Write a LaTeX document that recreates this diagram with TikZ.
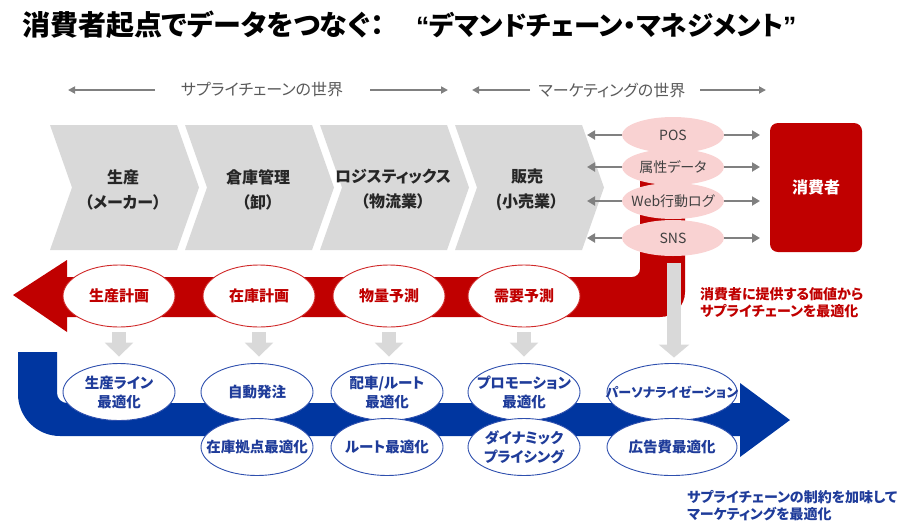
\documentclass[tikz,border=0pt]{standalone}
\usepackage{fontspec}
\setmainfont{Noto Sans CJK JP}[RawFeature=+palt]
\newfontfamily\latinq{Liberation Sans}
\usetikzlibrary{shapes.geometric,arrows.meta}
\definecolor{chevgray}{HTML}{D9D9D9}
\definecolor{agray}{HTML}{808080}
\definecolor{hdrgray}{HTML}{595959}
\definecolor{chtext}{HTML}{262626}
\definecolor{dtext}{HTML}{404040}
\definecolor{sred}{HTML}{C00000}
\definecolor{redline}{HTML}{D02A2A}
\definecolor{pinkf}{HTML}{F9D2D2}
\definecolor{sblue}{HTML}{0036A0}
\definecolor{blueline}{HTML}{2E4FAE}
\definecolor{btext}{HTML}{1F3C9A}
\begin{document}
\begin{tikzpicture}[x=1pt,y=-1pt,
  titlefont/.style={font=\bfseries\fontsize{28}{28}\selectfont, inner sep=0, anchor=base west},
  chevron/.style={fill=chevgray},
  hdr/.style={font=\fontsize{16}{16}\selectfont, text=hdrgray, inner sep=0},
  hdrarrow/.style={draw=agray, line width=2pt, -{Triangle[length=7pt,width=7pt]}},
  chlabel/.style={font=\bfseries\fontsize{16}{25}\selectfont, text=chtext, align=center},
  shrink/.style={inner xsep=-30pt, inner ysep=-15pt},
  datanode/.style={ellipse, shrink, fill=pinkf, minimum width=102pt, minimum height=36pt, font=\fontsize{14}{14}\selectfont, text=dtext},
  dataarrow/.style={draw=agray, line width=2.6pt, -{Triangle[length=8pt,width=9pt]}},
  redell/.style={ellipse, shrink, draw=redline, line width=0.9pt, fill=white, minimum width=112pt, minimum height=62pt, font=\bfseries\fontsize{15}{15}\selectfont, text=sred},
  blueell/.style={ellipse, shrink, draw=blueline, line width=0.9pt, fill=white, minimum width=112pt, minimum height=57pt, font=\bfseries\fontsize{14.5}{19}\selectfont, text=btext, align=center},
  smalldown/.style={draw=chevgray, line width=14pt, -{Triangle[length=14pt,width=28pt]}},
  bigdown/.style={draw=chevgray, line width=14pt, -{Triangle[length=13pt,width=30pt]}},
  caption/.style={anchor=west, align=left, inner sep=0, font=\bfseries\fontsize{14}{17}\selectfont},
]
\path[use as bounding box] (0,0) rectangle (897,531);

% title
\node[titlefont] (title) at (22,35) {消費者起点でデータをつなぐ：};
\node[titlefont, font=\bfseries\fontsize{26.5}{26.5}\selectfont] (title2) at (416,35) {{\latinq “}デマンドチェーン・マネジメント{\latinq ”}};

% header
\node[hdr] (hdrA) at (262,90) {サプライチェーンの世界};
\node[hdr] (hdrB) at (612,90) {マーケティングの世界};
\coordinate (hA0) at (155,90); \coordinate (hA1) at (68,90);
\coordinate (hA2) at (370,90); \coordinate (hA3) at (448,90);
\coordinate (hB0) at (530,90); \coordinate (hB1) at (472,90);
\coordinate (hB2) at (700,90); \coordinate (hB3) at (766,90);
\draw[hdrarrow] (hA0) -- (hA1);
\draw[hdrarrow] (hA2) -- (hA3);
\draw[hdrarrow] (hB0) -- (hB1);
\draw[hdrarrow] (hB2) -- (hB3);

% chevrons
\foreach \x in {50,185,320,455}{
  \fill[chevron] (\x,125) -- (\x+127,125) -- (\x+149,187.5) -- (\x+127,250) -- (\x,250) -- (\x+22,187.5) -- cycle;
}
\node[chlabel] (c1) at (123,189.5) {生産\\（メーカー）};
\node[chlabel] (c2) at (258,189.5) {倉庫管理\\（卸）};
\node[chlabel] (c3) at (393,189.5) {ロジスティックス\\（物流業）};
\node[chlabel] (c4) at (527,189.5) {販売\\(小売業）};

% red band
\fill[sred] (13,295) -- (67,260) -- (67,277) -- (632,277) .. controls (636.4,277) and (640,273.4) .. (640,269) -- (640,165) -- (685,165) -- (685,292) .. controls (685,305.8) and (673.8,317) .. (660,317) -- (67,317) -- (67,332) -- cycle;

% blue band
\fill[sblue] (18,352) -- (57,352) -- (57,393) .. controls (57,398.5) and (61.5,403) .. (67,403) -- (740,403) -- (740,383) -- (790,420) -- (740,457) -- (740,436) -- (60,436) .. controls (36.8,436) and (18,417.2) .. (18,394) -- cycle;

% data ellipses
\node[datanode] (pos) at (673,135) {POS};
\node[datanode] (attr) at (673,167) {属性データ};
\node[datanode] (web) at (673,201) {Web行動ログ};
\node[datanode] (sns) at (673,238) {SNS};
\foreach \n/\y in {pos/135,attr/167,web/201,sns/238}{
  \coordinate (\n L) at (587,\y);
  \coordinate (\n R) at (760,\y);
  \draw[dataarrow] (\n.west) -- (\n L);
  \draw[dataarrow] (\n.east) -- (\n R);
}

% consumer
\node[fill=sred, rounded corners=8pt, minimum width=92pt, minimum height=129pt, inner sep=0,
      font=\bfseries\fontsize{16}{16}\selectfont, text=white] (cons) at (816,187.5) {消費者};

% red ellipses
\node[redell] (r1) at (119,296) {生産計画};
\node[redell] (r2) at (259,296) {在庫計画};
\node[redell] (r3) at (389,296) {物量予測};
\node[redell] (r4) at (524,296) {需要予測};

% blue ellipses
\node[blueell] (b1) at (119,392) {生産ライン\\最適化};
\node[blueell] (b2) at (257,392) {自動発注};
\node[blueell] (b3) at (387,392) {配車/ルート\\最適化};
\node[blueell] (b4) at (524,392) {プロモーション\\最適化};
\node[blueell, minimum width=130pt, font=\bfseries\fontsize{13}{19}\selectfont] (b5) at (672,392) {パーソナライゼーション};
\node[blueell] (b6) at (257,447) {在庫拠点最適化};
\node[blueell] (b7) at (387,447) {ルート最適化};
\node[blueell] (b8) at (524,447) {ダイナミック\\プライシング};
\node[blueell, minimum width=130pt] (b9) at (672,447) {広告費最適化};

% gray down arrows
\foreach \r/\b in {r1/b1,r2/b2,r3/b3,r4/b4}{
  \draw[smalldown, shorten <=5pt, shorten >=6.5pt] (\r.south) -- (\r.south |- \b.north);
}
\draw[bigdown, shorten <=7pt, shorten >=5.5pt] ([xshift=1pt]sns.south) -- ([xshift=1pt]sns.south |- b5.north);

% captions
\node[caption, text=sred] (redcap) at (700,303) {消費者に提供する価値から\\サプライチェーンを最適化};
\node[caption, text=btext] (bluecap) at (687,506) {サプライチェーンの制約を加味して\\マーケティングを最適化};
\end{tikzpicture}
\end{document}
